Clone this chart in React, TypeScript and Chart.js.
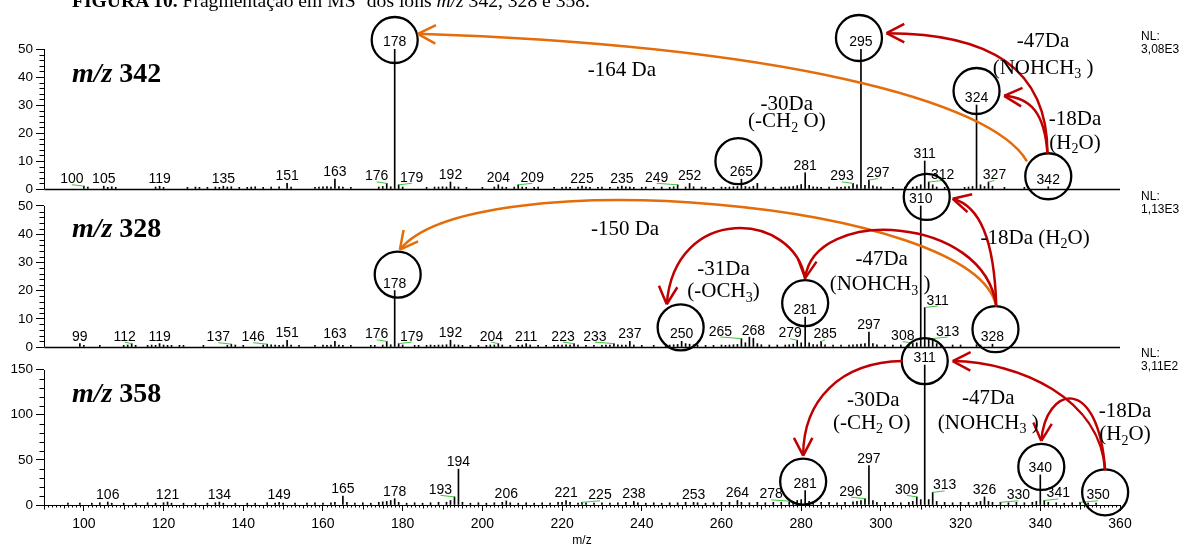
import { useEffect, useRef } from 'react';
import { Chart, registerables } from 'chart.js';
Chart.register(...registerables);

const W = 1183;
const H = 547;
const SANS = '"Liberation Sans", Arial, Helvetica, sans-serif';
const SERIF = '"Liberation Serif", "Times New Roman", Times, serif';
const RED = '#C00000';
const ORANGE = '#E46C0A';
const GREEN = '#3CC83C';

// ---- x axis (m/z) ----
const X_MIN = 90;
const X_MAX = 360;
const X_LABELS = [100, 120, 140, 160, 180, 200, 220, 240, 260, 280, 300, 320, 340, 360];

// ---- panel 1 : MS2 of m/z 342 (NL 3,08E3) ----
const MZ_342 = [
  100, 101, 105, 106, 107, 108, 118, 119, 120, 126,
  128, 129, 131, 133, 134, 135, 136, 137, 139, 141,
  142, 143, 145, 147, 149, 151, 152, 158, 159, 160,
  161, 162, 163, 164, 165, 167, 174, 175, 176, 177,
  178, 179, 180, 186, 188, 189, 190, 191, 192, 193,
  194, 196, 200, 203, 204, 205, 206, 208, 209, 210,
  211, 213, 214, 218, 220, 221, 222, 224, 225, 226,
  227, 229, 230, 232, 234, 235, 236, 237, 238, 240,
  241, 243, 245, 247, 248, 249, 251, 252, 253, 255,
  256, 258, 260, 261, 262, 263, 264, 265, 266, 267,
  268, 269, 271, 273, 275, 276, 277, 278, 279, 280,
  281, 282, 283, 284, 285, 287, 289, 290, 291, 292,
  293, 294, 295, 296, 297, 298, 299, 300, 303, 306,
  308, 309, 310, 311, 312, 313, 314, 316, 321, 322,
  323, 324, 325, 326, 327, 328, 331, 336, 342,
];
const AB_342 = [
  1.0, 0.7, 1.0, 0.6, 0.8, 0.6, 0.7, 1.0, 0.6, 0.6,
  0.7, 0.6, 0.6, 0.7, 0.6, 1.0, 0.7, 0.8, 0.6, 0.6,
  0.7, 0.8, 0.6, 0.7, 0.8, 2.0, 0.7, 0.6, 0.7, 0.8,
  0.9, 0.7, 3.5, 0.9, 0.7, 0.6, 0.7, 0.9, 2.0, 0.8,
  50, 1.5, 0.7, 0.6, 0.7, 0.7, 0.8, 0.7, 2.5, 0.8,
  0.7, 0.6, 0.6, 0.7, 1.5, 0.7, 0.6, 0.7, 1.5, 0.7,
  0.6, 0.6, 0.7, 0.6, 0.6, 0.7, 0.6, 0.7, 1.0, 0.7,
  0.6, 0.6, 0.7, 0.6, 0.7, 1.0, 0.8, 0.7, 0.6, 0.6,
  0.7, 0.6, 0.7, 0.6, 0.8, 1.5, 0.7, 2.0, 0.8, 0.7,
  0.6, 0.6, 0.7, 0.6, 0.7, 0.8, 0.9, 3.5, 0.9, 0.7,
  1.0, 2.0, 0.7, 0.6, 0.7, 0.7, 0.8, 0.9, 1.2, 1.6,
  5.8, 1.3, 0.8, 0.7, 0.6, 0.7, 0.7, 0.6, 0.8, 0.9,
  2.0, 1.5, 50, 1.3, 3.2, 1.1, 0.8, 0.7, 0.6, 0.7,
  0.7, 0.9, 1.5, 10, 2.5, 1.5, 0.7, 0.6, 0.6, 0.7,
  0.9, 30, 1.5, 0.9, 2.5, 1.0, 0.6, 0.6, 0.8,
];
const LAB_342 = [100, 105, 119, 135, 151, 163, 176, 178, 179, 192, 204, 209, 225, 235, 249, 252, 265, 281, 293, 295, 297, 311, 312, 324, 327, 342];
const SHIFT_342: Record<number, number> = { 100: -12, 176: -10, 179: 13, 209: 14, 249: -21, 293: -11, 297: 9, 312: 14, 327: 6 };
const CIRC_342 = [[178, 0, -1], [295, -2, -3], [324, 0, -6], [342, 0, -2.5], [265, -3, -10]];

// ---- panel 2 : MS2 of m/z 328 (NL 1,13E3) ----
const MZ_328 = [
  99, 100, 104, 110, 111, 112, 113, 116, 117, 118,
  119, 120, 121, 122, 124, 125, 130, 136, 137, 138,
  140, 145, 146, 147, 148, 149, 150, 151, 152, 154,
  158, 160, 161, 162, 163, 164, 165, 167, 172, 173,
  175, 176, 177, 178, 179, 180, 183, 184, 186, 187,
  188, 189, 190, 191, 192, 193, 194, 195, 197, 199,
  201, 202, 203, 204, 205, 207, 209, 210, 211, 212,
  214, 216, 218, 219, 220, 221, 222, 223, 224, 226,
  228, 230, 231, 232, 233, 234, 235, 236, 237, 238,
  240, 243, 246, 247, 248, 249, 250, 251, 252, 253,
  254, 256, 258, 260, 261, 262, 263, 264, 265, 266,
  267, 268, 269, 270, 272, 274, 276, 277, 278, 279,
  280, 281, 282, 283, 284, 285, 286, 288, 290, 292,
  293, 294, 295, 296, 297, 298, 299, 301, 303, 305,
  307, 308, 309, 310, 311, 312, 313, 314, 315, 318,
  320, 324, 325, 328,
];
const AB_328 = [
  1.2, 0.6, 0.6, 0.6, 0.7, 1.2, 0.6, 0.6, 0.7, 0.6,
  1.2, 0.7, 0.6, 0.6, 0.6, 0.6, 0.6, 0.6, 1.0, 0.7,
  0.6, 0.7, 1.0, 0.8, 0.7, 0.6, 0.7, 2.4, 0.7, 0.6,
  0.6, 0.7, 0.6, 0.7, 2.0, 0.7, 0.6, 0.6, 0.6, 0.6,
  0.7, 2.0, 0.8, 20, 1.2, 0.7, 0.6, 0.6, 0.6, 0.7,
  0.6, 0.7, 0.7, 0.8, 2.4, 0.8, 0.7, 0.6, 0.6, 0.6,
  0.6, 0.7, 0.7, 1.2, 0.7, 0.6, 0.6, 0.7, 1.2, 0.7,
  0.6, 0.6, 0.6, 0.7, 0.7, 0.8, 0.7, 1.2, 0.7, 0.6,
  0.6, 0.6, 0.7, 0.7, 1.2, 0.8, 0.7, 0.7, 2.0, 0.7,
  0.6, 0.6, 0.6, 0.7, 0.8, 0.9, 2.0, 1.2, 1.0, 0.8,
  0.7, 0.6, 0.6, 0.7, 0.6, 0.7, 0.8, 0.9, 3.0, 1.5,
  3.5, 3.1, 1.2, 0.8, 0.7, 0.7, 0.7, 0.8, 1.0, 2.4,
  1.5, 10.6, 1.5, 0.9, 0.8, 2.0, 0.8, 0.7, 0.7, 0.7,
  0.8, 0.9, 1.0, 1.2, 5.3, 1.2, 0.8, 0.7, 0.7, 0.7,
  0.8, 1.4, 1.5, 50, 14, 3.0, 3.0, 1.2, 0.8, 0.7,
  0.7, 0.8, 0.7, 1.0,
];
const LAB_328 = [99, 112, 119, 137, 146, 151, 163, 176, 178, 179, 192, 204, 211, 223, 233, 237, 250, 265, 268, 279, 281, 285, 297, 308, 310, 311, 313, 328];
const SHIFT_328: Record<number, number> = { 112: -7, 137: -13, 146: -14, 176: -10, 179: 13, 204: -7, 223: -11, 233: -19, 265: -21, 279: -7, 285: 4, 308: -10, 311: 13, 313: 15 };
const CIRC_328 = [[310, 6, -1], [178, 3, -8], [250, -1, -6], [281, 0, -6], [328, 3, -7]];

// ---- panel 3 : MS2 of m/z 358 (NL 3,11E2) ----
const MZ_358 = [
  96, 99, 102, 104, 106, 107, 110, 113, 116, 118,
  120, 121, 122, 125, 128, 131, 133, 134, 135, 138,
  141, 143, 146, 148, 149, 150, 153, 156, 158, 160,
  162, 163, 165, 166, 168, 170, 172, 174, 175, 176,
  177, 178, 179, 181, 183, 185, 187, 189, 191, 192,
  193, 194, 195, 197, 199, 201, 203, 205, 206, 207,
  209, 211, 213, 215, 217, 219, 220, 221, 222, 224,
  225, 226, 228, 230, 232, 234, 236, 238, 239, 241,
  243, 245, 247, 249, 251, 253, 254, 256, 258, 260,
  262, 264, 265, 267, 269, 271, 273, 275, 277, 278,
  279, 280, 281, 282, 283, 285, 287, 289, 291, 293,
  294, 295, 296, 297, 298, 299, 301, 303, 305, 307,
  308, 309, 310, 311, 312, 313, 314, 316, 318, 320,
  322, 324, 325, 326, 327, 328, 330, 332, 334, 336,
  338, 339, 340, 341, 342, 344, 346, 348, 350, 352,
  354,
];
const AB_358 = [
  2, 2, 2, 2.5, 3.3, 2, 2, 2, 2.5, 2,
  2.5, 3.3, 2, 2, 2, 2, 2.5, 3.3, 2, 2,
  2, 2, 2.5, 2, 3, 2, 2, 2, 2.5, 2,
  2.5, 3, 10, 3, 2, 2.5, 2, 3, 3.5, 4,
  5, 7, 3, 2, 2.5, 2, 2.5, 3, 3, 5,
  9, 39.7, 3, 2, 2.5, 2, 2.5, 3, 4.5, 2.5,
  2, 2.5, 2, 2.5, 2, 3, 3, 5, 3, 2,
  3, 2.5, 2, 2.5, 2, 2.5, 3, 4, 2.5, 2,
  2.5, 2, 2.5, 2.5, 3, 3, 2.5, 2, 2.5, 3,
  3, 5, 3, 2.5, 3, 2.5, 3, 3, 3.5, 4,
  5, 6, 16, 4, 3, 3, 3, 2.5, 3, 3.5,
  4, 5, 7, 43.7, 5, 3, 3, 3, 2.5, 3,
  4, 9, 6, 155, 6, 14, 4, 3, 2.5, 3,
  3, 3, 4, 9, 4, 3, 3, 2.5, 3, 2.5,
  3, 4, 33.3, 5, 3, 2.5, 2, 2.5, 3, 2,
  2,
];
const LAB_358 = [106, 121, 134, 149, 165, 178, 193, 194, 206, 221, 225, 238, 253, 264, 278, 281, 296, 297, 309, 311, 313, 326, 330, 340, 341, 350];
const SHIFT_358: Record<number, number> = { 193: -14, 225: 18, 278: -22, 296: -14, 309: -10, 313: 12, 330: 18, 341: 14, 350: 18 };
const CIRC_358 = [[311, 0, 4], [281, -2, -1], [340, 1, 0], [350, 7, -2]];

// ---- panel axes ----
const PANELS = [
  { id: 'y1', mz: MZ_342, ab: AB_342, labels: LAB_342, shift: SHIFT_342, circles: CIRC_342, max: 50, tickMax: 50, step: 10, minor: 2, weight: 140, name: '342', nl: '3,08E3', titleV: 38.3, nlV: 54.4 },
  { id: 'y2', mz: MZ_328, ab: AB_328, labels: LAB_328, shift: SHIFT_328, circles: CIRC_328, max: 56, tickMax: 50, step: 10, minor: 2, weight: 158, name: '328', nl: '1,13E3', titleV: 39.1, nlV: 53.3 },
  { id: 'y3', mz: MZ_358, ab: AB_358, labels: LAB_358, shift: SHIFT_358, circles: CIRC_358, max: 175, tickMax: 150, step: 50, minor: 10, weight: 158, name: '358', nl: '3,11E2', titleV: 114.4, nlV: 167.2 },
];

// ---- fragmentation arrows (between circled ions) ----
const ARROWS = [
  { from: 'y1:342', fa: -145, fr: 26, to: 'y1:178', ta: -15, tr: 24, d1: [-35, -61], d2: [363, 12], color: ORANGE },
  { from: 'y1:342', fa: -92, fr: 23, to: 'y1:295', ta: -10, tr: 28, d1: [0, -85], d2: [103, 0], color: RED },
  { from: 'y1:342', fa: -92, fr: 23, to: 'y1:324', ta: 10, tr: 28, d1: [-3, -40], d2: [27, 2], color: RED },
  { from: 'y2:328', fa: -88, fr: 23, to: 'y2:178', ta: -85, tr: 25, d1: [-22, -107], d2: [70, -89], color: ORANGE },
  { from: 'y2:328', fa: -88, fr: 23, to: 'y2:310', ta: 4, tr: 26, d1: [-2, -67], d2: [27, 7], color: RED },
  { from: 'y2:328', fa: -88, fr: 23, to: 'y2:281', ta: -90, tr: 25, d1: [-12, -92], d2: [9, -72], color: RED },
  { from: 'y2:281', fa: -90, fr: 24, to: 'y2:250', ta: -121, tr: 27, d1: [-11, -68], d2: [8, -101], color: RED },
  { from: 'y3:311', fa: 180, fr: 22, to: 'y3:281', ta: -90, tr: 26, d1: [-63, 1], d2: [0, -55], color: RED },
  { from: 'y3:350', fa: -90, fr: 22, to: 'y3:311', ta: 0, tr: 28, d1: [-5, -72], d2: [67, 1], color: RED },
  { from: 'y3:350', fa: -90, fr: 22, to: 'y3:340', ta: -90, tr: 26, d1: [-7, -97], d2: [4, -55], color: RED },
];

// ---- loss annotations (text in {} is subscript) ----
const NOTES = [
  { p: 'y1', mz: 235.0, v: 42.75, s: '-164 Da' },
  { p: 'y1', mz: 276.4, v: 30.7, s: '-30Da' },
  { p: 'y1', mz: 276.4, v: 24.6, s: '(-CH{2} O)' },
  { p: 'y1', mz: 340.7, v: 53.2, s: '-47Da' },
  { p: 'y1', mz: 340.7, v: 43.7, s: '(NOHCH{3} )' },
  { p: 'y1', mz: 348.7, v: 25.5, s: '-18Da' },
  { p: 'y1', mz: 348.7, v: 16.9, s: '(H{2}O)' },
  { p: 'y2', mz: 235.8, v: 42.2, s: '-150 Da' },
  { p: 'y2', mz: 260.5, v: 28.1, s: '-31Da' },
  { p: 'y2', mz: 260.5, v: 20.2, s: '(-OCH{3})' },
  { p: 'y2', mz: 300.2, v: 31.4, s: '-47Da' },
  { p: 'y2', mz: 299.8, v: 22.6, s: '(NOHCH{3} )' },
  { p: 'y2', mz: 338.7, v: 39.1, s: '-18Da (H{2}O)' },
  { p: 'y3', mz: 298.1, v: 117.1, s: '-30Da' },
  { p: 'y3', mz: 297.7, v: 92.3, s: '(-CH{2} O)' },
  { p: 'y3', mz: 326.95, v: 120, s: '-47Da' },
  { p: 'y3', mz: 326.95, v: 92.3, s: '(NOHCH{3} )' },
  { p: 'y3', mz: 361.25, v: 105.2, s: '-18Da' },
  { p: 'y3', mz: 361.25, v: 79.4, s: '(H{2}O)' },
];

function parseRich(s: string) {
  const out: any[] = [];
  const re = /\{([^}]*)\}/g;
  let last = 0;
  let m: any;
  while ((m = re.exec(s))) {
    if (m.index > last) out.push({ t: s.slice(last, m.index) });
    out.push({ t: m[1], sub: true });
    last = re.lastIndex;
  }
  if (last < s.length) out.push({ t: s.slice(last) });
  return out;
}

function drawRich(ctx: any, s: string, cx: number, cy: number, size: number) {
  const segs = parseRich(s);
  const main = `${size}px ${SERIF}`;
  const small = `${Math.round(size * 0.65)}px ${SERIF}`;
  let total = 0;
  const widths = segs.map((g: any) => {
    ctx.font = g.sub ? small : main;
    const w = ctx.measureText(g.t).width;
    total += w;
    return w;
  });
  let x = cx - total / 2;
  const base = cy + size * 0.33;
  ctx.textAlign = 'left';
  ctx.textBaseline = 'alphabetic';
  ctx.fillStyle = '#000';
  segs.forEach((g: any, i: number) => {
    ctx.font = g.sub ? small : main;
    ctx.fillText(g.t, x, g.sub ? base + size * 0.22 : base);
    x += widths[i];
  });
}

function peakGeom(chart: any, panel: any, mz: number) {
  const xs = chart.scales.x;
  const ys = chart.scales[panel.id];
  const i = panel.mz.indexOf(mz);
  const ab = i >= 0 ? panel.ab[i] : 0;
  const px = xs.getPixelForValue(mz);
  const top = ys.getPixelForValue(ab);
  const lx = px + (panel.shift[mz] || 0);
  const base = top - 3;
  return { px, top, lx, base, cy: base - 5 };
}

const decorPlugin = {
  id: 'decor',
  afterDraw(chart: any) {
    const ctx = chart.ctx;
    const area = chart.chartArea;
    const xs = chart.scales.x;
    ctx.save();
    ctx.lineCap = 'butt';

    // y-axis lines, minor ticks, panel baselines
    ctx.strokeStyle = '#000';
    ctx.lineWidth = 1;
    const ax = Math.round(area.left) + 0.5;
    PANELS.forEach((p) => {
      const ys = chart.scales[p.id];
      const y0 = ys.getPixelForValue(0);
      const yT = ys.getPixelForValue(p.tickMax);
      ctx.beginPath();
      ctx.moveTo(ax, Math.round(y0) + 0.5);
      ctx.lineTo(ax, Math.round(yT));
      ctx.stroke();
      ctx.beginPath();
      for (let v = 0; v <= p.tickMax; v += p.minor) {
        if (v % p.step === 0) continue;
        const yy = Math.round(ys.getPixelForValue(v)) + 0.5;
        ctx.moveTo(ax - 5, yy);
        ctx.lineTo(ax, yy);
      }
      ctx.stroke();
      if (p.id !== 'y3') {
        ctx.beginPath();
        ctx.lineWidth = 1.3;
        ctx.moveTo(ax, Math.round(y0) + 0.5);
        ctx.lineTo(area.right, Math.round(y0) + 0.5);
        ctx.stroke();
        ctx.lineWidth = 1;
      }
    });
    // x minor ticks
    ctx.beginPath();
    for (let m = X_MIN; m <= X_MAX; m++) {
      if (m % 20 === 0) continue;
      const xx = Math.round(xs.getPixelForValue(m)) + 0.5;
      const len = m % 10 === 0 ? 4.5 : m % 5 === 0 ? 3.5 : 2.5;
      ctx.moveTo(xx, area.bottom);
      ctx.lineTo(xx, area.bottom + len);
    }
    ctx.stroke();

    // x axis title
    ctx.fillStyle = '#000';
    ctx.font = `12px ${SANS}`;
    ctx.textAlign = 'center';
    ctx.textBaseline = 'middle';
    ctx.fillText('m/z', (area.left + area.right) / 2, 541);

    // peak labels
    const centers: Record<string, any> = {};
    PANELS.forEach((p) => {
      ctx.font = `14px ${SANS}`;
      ctx.textAlign = 'center';
      ctx.textBaseline = 'alphabetic';
      p.labels.forEach((mz: number) => {
        const g = peakGeom(chart, p, mz);
        ctx.fillStyle = '#000';
        ctx.fillText(String(mz), g.lx, g.base);
        if (p.shift[mz]) {
          ctx.strokeStyle = GREEN;
          ctx.lineWidth = 1;
          ctx.beginPath();
          ctx.moveTo(g.lx, g.base + 1.5);
          ctx.lineTo(g.px, g.top);
          ctx.stroke();
        }
      });
      p.circles.forEach((c: number[]) => {
        const g = peakGeom(chart, p, c[0]);
        centers[`${p.id}:${c[0]}`] = { x: g.lx + c[1], y: g.cy + c[2] };
      });
    });

    // circles
    ctx.strokeStyle = '#000';
    ctx.lineWidth = 2.3;
    Object.values(centers).forEach((c: any) => {
      ctx.beginPath();
      ctx.arc(c.x, c.y, 23, 0, Math.PI * 2);
      ctx.stroke();
    });

    // arrows
    ctx.lineWidth = 2.5;
    ctx.lineJoin = 'round';
    ARROWS.forEach((a) => {
      const cf = centers[a.from];
      const ct = centers[a.to];
      const fa = (a.fa * Math.PI) / 180;
      const ta = (a.ta * Math.PI) / 180;
      const p0 = { x: cf.x + a.fr * Math.cos(fa), y: cf.y + a.fr * Math.sin(fa) };
      const p3 = { x: ct.x + a.tr * Math.cos(ta), y: ct.y + a.tr * Math.sin(ta) };
      const p1 = { x: p0.x + a.d1[0], y: p0.y + a.d1[1] };
      const p2 = { x: p3.x + a.d2[0], y: p3.y + a.d2[1] };
      ctx.strokeStyle = a.color;
      ctx.beginPath();
      ctx.moveTo(p0.x, p0.y);
      ctx.bezierCurveTo(p1.x, p1.y, p2.x, p2.y, p3.x, p3.y);
      ctx.stroke();
      const dir = Math.atan2(p3.y - p2.y, p3.x - p2.x) + Math.PI;
      ctx.beginPath();
      [-0.48, 0.48].forEach((s) => {
        ctx.moveTo(p3.x, p3.y);
        ctx.lineTo(p3.x + 20 * Math.cos(dir + s), p3.y + 20 * Math.sin(dir + s));
      });
      ctx.stroke();
    });

    // loss annotations
    NOTES.forEach((n) => {
      const ys = chart.scales[n.p];
      drawRich(ctx, n.s, xs.getPixelForValue(n.mz), ys.getPixelForValue(n.v), 21);
    });

    // panel titles and NL
    PANELS.forEach((p) => {
      const ys = chart.scales[p.id];
      const x0 = xs.getPixelForValue(97);
      const yb = ys.getPixelForValue(p.titleV);
      ctx.fillStyle = '#000';
      ctx.textAlign = 'left';
      ctx.textBaseline = 'alphabetic';
      ctx.font = `italic bold 28px ${SERIF}`;
      ctx.fillText('m/z', x0, yb);
      const w = ctx.measureText('m/z').width;
      ctx.font = `bold 28px ${SERIF}`;
      ctx.fillText(' ' + p.name, x0 + w, yb);
      ctx.font = `12px ${SANS}`;
      ctx.textBaseline = 'middle';
      const nx = xs.getPixelForValue(365.3);
      const ny = ys.getPixelForValue(p.nlV);
      ctx.fillText('NL:', nx, ny);
      ctx.fillText(p.nl, nx, ny + 12.6);
    });
    ctx.restore();
  },
};

function yScale(p: any) {
  const vals: number[] = [];
  for (let v = 0; v <= p.tickMax; v += p.step) vals.push(v);
  return {
    type: 'linear',
    position: 'left',
    stack: 'spectra',
    stackWeight: p.weight,
    min: 0,
    max: p.max,
    offset: false,
    afterBuildTicks: (s: any) => {
      s.ticks = vals.map((v) => ({ value: v }));
    },
    afterFit: (s: any) => {
      s.width = 44;
    },
    ticks: { color: '#000', padding: 3, font: { family: SANS, size: 13.5 }, autoSkip: false, maxRotation: 0 },
    grid: { drawOnChartArea: false, drawTicks: true, tickLength: 8, color: '#000', lineWidth: 1 },
    border: { display: false },
  };
}

export default function App() {
  const ref = useRef<HTMLCanvasElement>(null);
  useEffect(() => {
    const datasets = PANELS.map((p) => ({
      type: 'bar',
      data: p.mz.map((m: number, i: number) => ({ x: m, y: p.ab[i] })),
      yAxisID: p.id,
      xAxisID: 'x',
      backgroundColor: '#000',
      borderWidth: 0,
      barThickness: 1,
      grouped: false,
    }));
    const chart = new Chart(ref.current as HTMLCanvasElement, {
      type: 'bar',
      data: { datasets } as any,
      options: {
        animation: false,
        responsive: false,
        devicePixelRatio: 1,
        layout: { padding: { top: 49, right: 63, bottom: 0, left: 0 } },
        plugins: { legend: { display: false }, tooltip: { enabled: false }, title: { display: false } },
        scales: {
          x: {
            type: 'linear',
            position: 'bottom',
            min: X_MIN,
            max: X_MAX,
            offset: false,
            afterBuildTicks: (s: any) => {
              s.ticks = X_LABELS.map((v) => ({ value: v }));
            },
            afterFit: (s: any) => {
              s.height = 42;
            },
            ticks: { color: '#000', padding: 5, font: { family: SANS, size: 14 }, autoSkip: false, maxRotation: 0 },
            grid: { drawOnChartArea: false, tickLength: 6, color: '#000', offset: false },
            border: { display: true, color: '#000', width: 1 },
            title: { display: false },
          },
          y3: yScale(PANELS[2]),
          y2: yScale(PANELS[1]),
          y1: yScale(PANELS[0]),
        } as any,
      },
      plugins: [decorPlugin],
    } as any);
    return () => chart.destroy();
  }, []);
  return (
    <div style={{ position: 'fixed', left: 0, top: 0, width: W, height: H, overflow: 'hidden', background: '#fff' }}>
      <canvas ref={ref} width={W} height={H} style={{ position: 'absolute', left: 0, top: 0, width: W, height: H }} />
      <div
        style={{
          position: 'absolute',
          left: 72,
          top: -9,
          fontFamily: SERIF,
          fontSize: 19.6,
          lineHeight: '20px',
          whiteSpace: 'nowrap',
          color: '#000',
        }}
      >
        <b>FIGURA 10.</b> Fragmentação em MS
        <span style={{ fontSize: '0.65em', position: 'relative', top: '-0.55em' }}>2</span> dos íons <i>m/z</i> 342, 328 e 358.
      </div>
    </div>
  );
}
